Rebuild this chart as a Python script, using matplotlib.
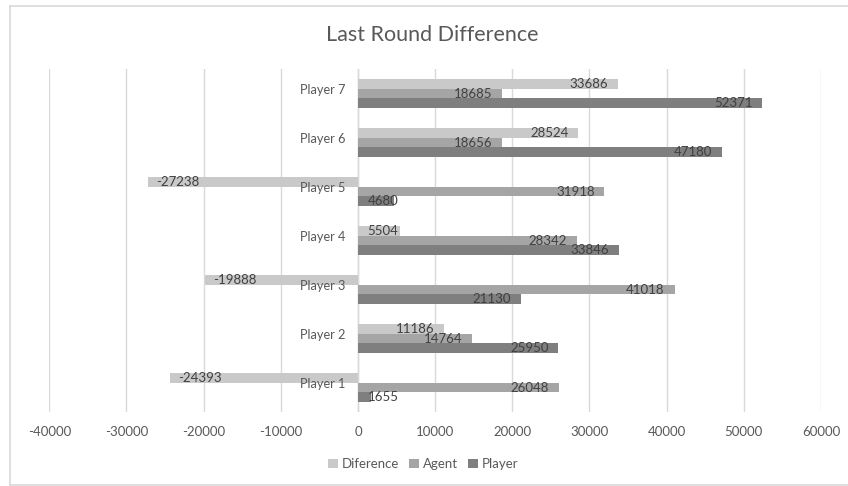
import matplotlib.pyplot as plt
from matplotlib.lines import Line2D
import numpy as np

players = ["Player 1", "Player 2", "Player 3", "Player 4", "Player 5", "Player 6", "Player 7"]
diference = [-24393, 11186, -19888, 5504, -27238, 28524, 33686]
agent = [26048, 14764, 41018, 28342, 31918, 18656, 18685]
player = [1655, 25950, 21130, 33846, 4680, 47180, 52371]

plt.rcParams['font.family'] = ['Lato', 'DejaVu Sans']
plt.rcParams['axes.unicode_minus'] = False

text_col = "#595959"
label_col = "#404040"
colors = {"Diference": "#c9c9c9", "Agent": "#a5a5a5", "Player": "#7f7f7f"}

fig = plt.figure(figsize=(8.48, 4.86), dpi=100)
ax = fig.add_axes([49.3 / 848, 74 / 486, 771.7 / 848, 343 / 486])

# chart border: left, top and bottom edges only
bx0, by0, by1 = 9.5 / 848, 1.5 / 486, 1 - 6.5 / 486
for xs, ys in [([bx0, bx0], [by0, by1]), ([bx0, 1], [by1, by1]), ([bx0, 1], [by0, by0])]:
    fig.add_artist(Line2D(xs, ys, transform=fig.transFigure, color="#d9d9d9", linewidth=1.2))

y = np.arange(len(players))
h = 0.2
series = [("Diference", diference, h), ("Agent", agent, 0), ("Player", player, -h)]

for name, vals, off in series:
    bars = ax.barh(y + off, vals, height=h, color=colors[name], label=name, zorder=2)
    for b, v in zip(bars, vals):
        yc = b.get_y() + b.get_height() / 2
        if v >= 0 and v < 6000:
            ax.annotate(str(v), (0, yc), xytext=(7, 0), textcoords="offset points",
                        ha="left", va="center", fontsize=9.5, color=label_col, zorder=4)
        elif v >= 0:
            ax.annotate(str(v), (v, yc), xytext=(-7, 0), textcoords="offset points",
                        ha="right", va="center", fontsize=9.5, color=label_col, zorder=4)
        else:
            ax.annotate(str(v), (v, yc), xytext=(6, 0), textcoords="offset points",
                        ha="left", va="center", fontsize=9.5, color=label_col, zorder=4)

# category labels sit next to the zero axis
for yi, name in zip(y, players):
    ax.annotate(name, (0, yi + 0.07), xytext=(-9, 0), textcoords="offset points",
                ha="right", va="center", fontsize=9.2, color=text_col, zorder=3)

ax.set_xlim(-40000, 60000)
ax.set_ylim(-0.5, len(players) - 0.5)
ax.set_xticks(np.arange(-40000, 60001, 10000))
ax.set_yticks([])
ax.grid(axis="x", color="#d9d9d9", linewidth=1, zorder=0)
ax.axvline(0, color="#d9d9d9", linewidth=1, zorder=1)
for s in ax.spines.values():
    s.set_visible(False)
ax.tick_params(axis="x", length=0, labelsize=9.5, labelcolor=text_col, pad=10)

fig.text(0.51, 1 - 35 / 486, "Last Round Difference", ha="center", va="center",
         fontsize=15.5, color=text_col)

fig.legend(loc="center", bbox_to_anchor=(0.499, 1 - 464 / 486), ncol=3, frameon=False,
           fontsize=9.5, labelcolor=text_col, handlelength=0.7, handleheight=0.7,
           handletextpad=0.3, columnspacing=0.8)

fig.savefig("out.png", dpi=100)
